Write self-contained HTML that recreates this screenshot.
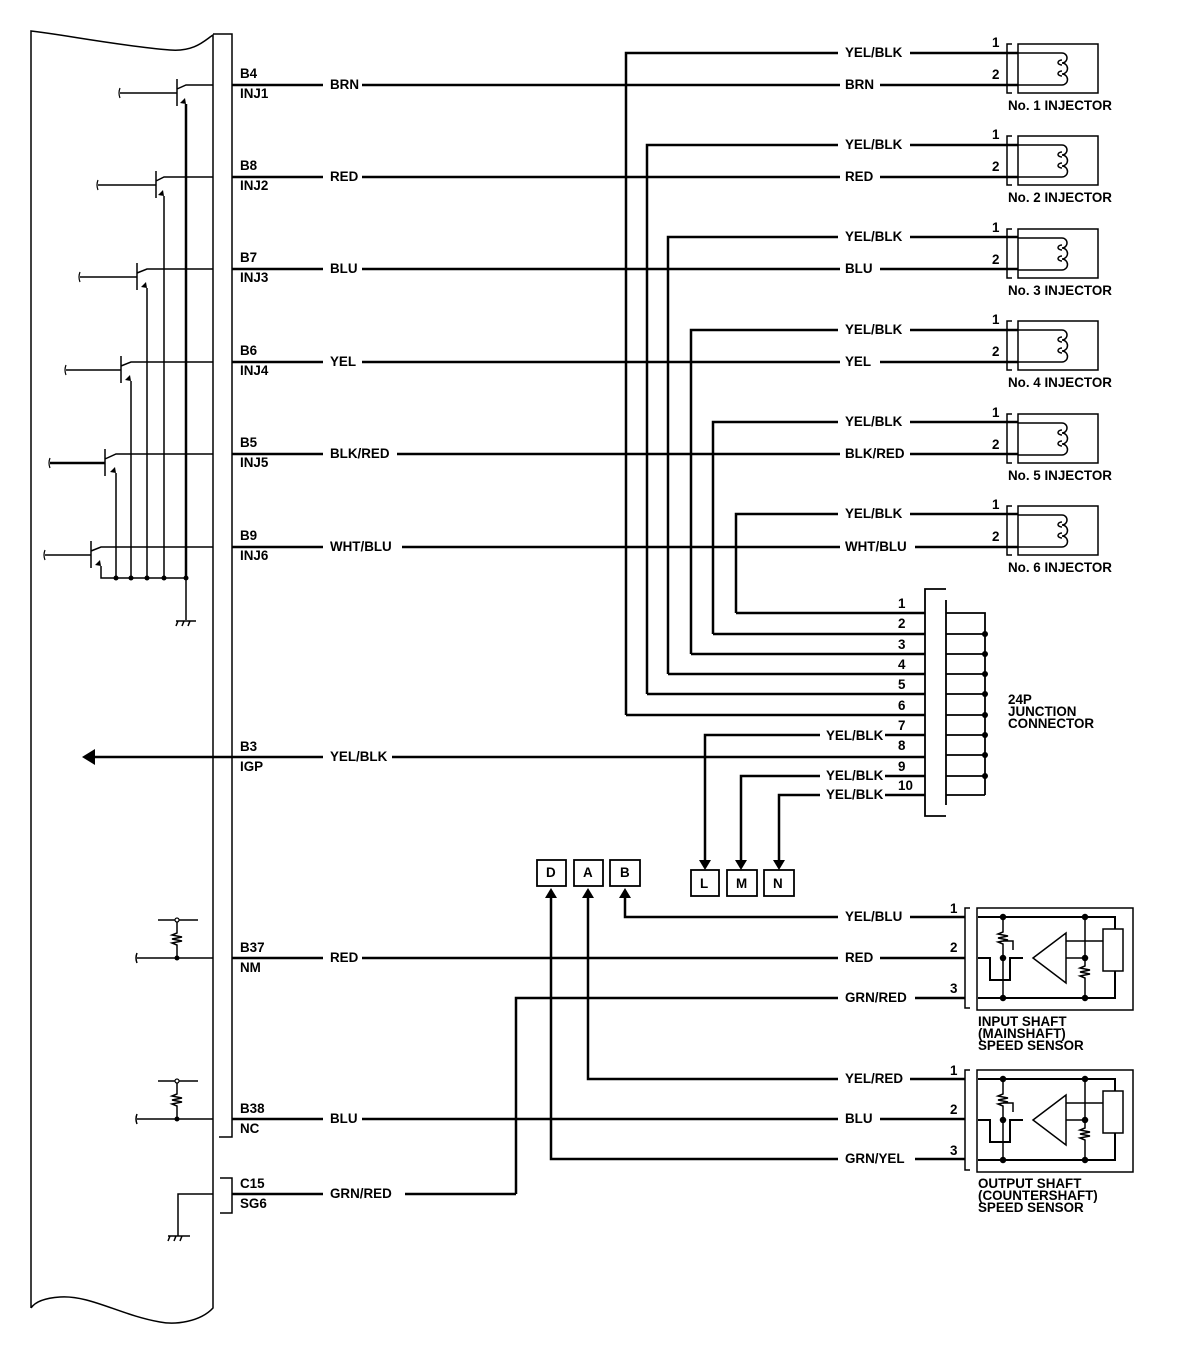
<!DOCTYPE html>
<html><head><meta charset="utf-8"><style>
html,body{margin:0;padding:0;background:#fff}
svg{display:block}
text{font-family:"Liberation Sans",sans-serif;font-weight:bold;font-size:13.4px;fill:#000}
</style></head><body>
<svg width="1184" height="1358" viewBox="0 0 1184 1358" xmlns="http://www.w3.org/2000/svg">
<defs>
<g id="inj">
 <path d="M1012,44 H1007 V93 H1012" fill="none" stroke="#000" stroke-width="1.5"/>
 <rect x="1018" y="44" width="80" height="49" fill="none" stroke="#000" stroke-width="1.5"/>
 <path d="M1018,53 H1062 M1018,85 H1062 M1062,53 a5,5 0 0 1 0,10 a5,5 0 0 1 0,11 a5,5 0 0 1 0,11 M1062,60 a4,2.5 0 0 0 0,5 M1062,71 a4,2.5 0 0 0 0,5" fill="none" stroke="#000" stroke-width="1.5"/>
 <text x="992" y="47">1</text><text x="992" y="79">2</text>
</g>
<g id="sen" fill="none" stroke="#000" stroke-width="1.5">
 <path d="M970,908 H965 V1008 H970"/>
 <rect x="977" y="908" width="156" height="102"/>
 <path d="M978,917 H1115 V929 M1115,971 V998 H978" stroke-width="2"/>
 <rect x="1103" y="929" width="20" height="42"/>
 <path d="M1003,917 V932 l-5,2 10,2 -10,2 10,2 -10,2 5,2 V998" />
 <path d="M1085,917 V966 l-5,2 10,2 -10,2 10,2 -10,2 5,2 V998"/>
 <path d="M978,958 H990 V980 H1010 V958 H1023" stroke-width="2"/>
 <path d="M1003,941 H1013 V950 M1033,958 L1066,933 V983 Z"/>
 <path d="M1066,941 H1103 M1066,958 H1085"/>
 <circle cx="1003" cy="917" r="2.5" fill="#000"/><circle cx="1003" cy="958" r="2.5" fill="#000"/><circle cx="1003" cy="998" r="2.5" fill="#000"/>
 <circle cx="1085" cy="917" r="2.5" fill="#000"/><circle cx="1085" cy="958" r="2.5" fill="#000"/><circle cx="1085" cy="998" r="2.5" fill="#000"/>
</g>
</defs>
<path d="M31,1308 V31 C60,34 120,46 170,50 C195,52 205,40 213,35 V1308 C200,1322 175,1325 160,1322 C120,1315 90,1295 60,1297 C45,1298 35,1302 31,1308" fill="none" stroke="#000" stroke-width="1.5"/>
<path d="M213,34 H232 V1137 H219" fill="none" stroke="#000" stroke-width="1.5"/>
<path d="M220,1178 H232 V1213 H220" fill="none" stroke="#000" stroke-width="1.5"/>

<g stroke="#000" fill="none">
<g stroke-width="1.5">
 <path d="M120,93 H177 M177,79 V106 M177,89 L186,85 H213 M186,104 V578"/>
 <path d="M98,185 H156 M156,171 V198 M156,181 L164,177 H213 M164,196 V578"/>
 <path d="M80,277 H137 M137,263 V290 M137,273 L147,269 H213 M147,288 V578"/>
 <path d="M66,370 H121 M121,356 V383 M121,366 L131,362 H213 M131,381 V578"/>
 <path d="M50,463 H105 M105,449 V476 M105,459 L116,454 H213 M116,473 V578" />
 <path d="M45,555 H91 M91,541 V568 M91,551 L101,547 H213 M101,566 V578 H186 V620"/>
 <path d="M176,621 H196 M178,621 l-2,5 M184,621 l-2,5 M190,621 l-2,5"/>
</g>
<path d="M50,463 H105 M186,104 V578" stroke-width="2.5"/>
<path d="M120,88 q-2,5 0,10 M98,180 q-2,5 0,10 M80,272 q-2,5 0,10 M66,365 q-2,5 0,10 M50,458 q-2,5 0,10 M45,550 q-2,5 0,10" stroke-width="1.2"/>
</g>
<g fill="#000">
 <path d="M186,104 l-6,-1 5,-5z M164,196 l-6,-1 5,-5z M147,288 l-6,-1 5,-5z M131,381 l-6,-1 5,-5z M116,473 l-6,-1 5,-5z M101,566 l-6,-1 5,-5z"/>
 <circle cx="116" cy="578" r="2.5"/><circle cx="131" cy="578" r="2.5"/><circle cx="147" cy="578" r="2.5"/><circle cx="164" cy="578" r="2.5"/><circle cx="186" cy="578" r="2.5"/>
</g>

<g stroke="#000" stroke-width="2.5" fill="none">
 <path d="M232,85 H323 M362,85 H840 M880,85 H1018"/>
 <path d="M232,177 H323 M362,177 H840 M880,177 H1018"/>
 <path d="M232,269 H323 M362,269 H840 M880,269 H1018"/>
 <path d="M232,362 H323 M362,362 H840 M880,362 H1018"/>
 <path d="M232,454 H323 M397,454 H840 M910,454 H1018"/>
 <path d="M232,547 H323 M402,547 H840 M915,547 H1018"/>
 <path d="M626,715 V53 H838 M910,53 H1018"/>
 <path d="M647,694 V145 H838 M910,145 H1018"/>
 <path d="M668,674 V237 H838 M910,237 H1018"/>
 <path d="M691,654 V330 H838 M910,330 H1018"/>
 <path d="M713,634 V422 H838 M910,422 H1018"/>
 <path d="M736,613 V514 H838 M910,514 H1018"/>
 <path d="M626,715 H925 M647,694 H925 M668,674 H925 M691,654 H925 M713,634 H925 M736,613 H925"/>
 <path d="M705,862 V735 H820 M885,735 H925"/>
 <path d="M90,757 H323 M392,757 H925" />
 <path d="M741,862 V776 H820 M885,776 H925"/>
 <path d="M779,862 V795 H820 M885,795 H925"/>
</g>
<g stroke="#000" stroke-width="1.8" fill="none">
 <path d="M946,589 H925 V816 H946 M946,600 V805"/>
 <path d="M946,613 H985 V795 M946,634 H985 M946,654 H985 M946,674 H985 M946,694 H985 M946,715 H985 M946,735 H985 M946,755 H985 M946,776 H985 M946,795 H985"/>
</g>
<g fill="#000">
 <circle cx="985" cy="634" r="3"/><circle cx="985" cy="654" r="3"/><circle cx="985" cy="674" r="3"/><circle cx="985" cy="694" r="3"/><circle cx="985" cy="715" r="3"/><circle cx="985" cy="735" r="3"/><circle cx="985" cy="755" r="3"/><circle cx="985" cy="776" r="3"/>
 <path d="M82,757 L95,749 V765 Z"/>
 <path d="M699,860 H711 L705,870 Z M735,860 H747 L741,870 Z M773,860 H785 L779,870 Z"/>
 <path d="M545,898 H557 L551,888 Z M582,898 H594 L588,888 Z M619,898 H631 L625,888 Z"/>
</g>
<g fill="none" stroke="#000" stroke-width="1.8">
 <rect x="691" y="870" width="28" height="26"/><rect x="727" y="870" width="30" height="26"/><rect x="764" y="870" width="30" height="26"/>
 <rect x="537" y="860" width="29" height="26"/><rect x="574" y="860" width="29" height="26"/><rect x="610" y="860" width="30" height="26"/>
</g>
<use href="#inj"/><use href="#inj" y="92"/><use href="#inj" y="185"/><use href="#inj" y="277"/><use href="#inj" y="370"/><use href="#inj" y="462"/>

<use href="#sen"/><use href="#sen" y="162"/>
<g stroke="#000" stroke-width="2.5" fill="none">
 <path d="M625,898 V917 H838 M910,917 H965"/>
 <path d="M232,958 H323 M362,958 H838 M880,958 H965"/>
 <path d="M516,1194 V998 H838 M915,998 H965"/>
 <path d="M588,898 V1079 H838 M910,1079 H965"/>
 <path d="M232,1119 H323 M362,1119 H838 M880,1119 H965"/>
 <path d="M551,898 V1159 H838 M915,1159 H965"/>
 <path d="M232,1194 H323 M405,1194 H516"/>
</g>
<g stroke="#000" stroke-width="1.5" fill="none">
 <path d="M137,958 H213 M177,958 V945 l-5,-2 10,-2 -10,-2 10,-2 -10,-2 5,-2 V920 M158,920 H198"/>
 <path d="M137,1119 H213 M177,1119 V1106 l-5,-2 10,-2 -10,-2 10,-2 -10,-2 5,-2 V1081 M158,1081 H198"/>
 <path d="M213,1194 H178 V1236 M168,1236 H190 M170,1236 l-2,5 M176,1236 l-2,5 M182,1236 l-2,5"/>
 <path d="M137,953 q-2,5 0,10 M137,1114 q-2,5 0,10"/>
</g>
<g fill="#000"><circle cx="177" cy="958" r="2.5"/><circle cx="177" cy="1119" r="2.5"/></g>
<g fill="#fff" stroke="#000" stroke-width="1.2"><circle cx="177" cy="920" r="2"/><circle cx="177" cy="1081" r="2"/></g>

<text x="240" y="78">B4</text><text x="240" y="98">INJ1</text><text x="330" y="89">BRN</text><text x="845" y="89">BRN</text>
<text x="240" y="170">B8</text><text x="240" y="190">INJ2</text><text x="330" y="181">RED</text><text x="845" y="181">RED</text>
<text x="240" y="262">B7</text><text x="240" y="282">INJ3</text><text x="330" y="273">BLU</text><text x="845" y="273">BLU</text>
<text x="240" y="355">B6</text><text x="240" y="375">INJ4</text><text x="330" y="366">YEL</text><text x="845" y="366">YEL</text>
<text x="240" y="447">B5</text><text x="240" y="467">INJ5</text><text x="330" y="458">BLK/RED</text><text x="845" y="458">BLK/RED</text>
<text x="240" y="540">B9</text><text x="240" y="560">INJ6</text><text x="330" y="551">WHT/BLU</text><text x="845" y="551">WHT/BLU</text>
<text x="845" y="57">YEL/BLK</text><text x="845" y="149">YEL/BLK</text><text x="845" y="241">YEL/BLK</text><text x="845" y="334">YEL/BLK</text><text x="845" y="426">YEL/BLK</text><text x="845" y="518">YEL/BLK</text>
<text x="1008" y="110">No. 1 INJECTOR</text><text x="1008" y="202">No. 2 INJECTOR</text><text x="1008" y="295">No. 3 INJECTOR</text><text x="1008" y="387">No. 4 INJECTOR</text><text x="1008" y="480">No. 5 INJECTOR</text><text x="1008" y="572">No. 6 INJECTOR</text>
<text x="898" y="608">1</text><text x="898" y="628">2</text><text x="898" y="649">3</text><text x="898" y="669">4</text><text x="898" y="689">5</text><text x="898" y="710">6</text><text x="898" y="730">7</text><text x="898" y="750">8</text><text x="898" y="771">9</text><text x="898" y="790">10</text>
<text x="1008" y="704">24P</text><text x="1008" y="716">JUNCTION</text><text x="1008" y="728">CONNECTOR</text>
<text x="826" y="740">YEL/BLK</text><text x="826" y="780">YEL/BLK</text><text x="826" y="799">YEL/BLK</text>
<text x="240" y="751">B3</text><text x="240" y="771">IGP</text><text x="330" y="761">YEL/BLK</text>
<text x="700" y="888">L</text><text x="736" y="888">M</text><text x="773" y="888">N</text>
<text x="546" y="877">D</text><text x="583" y="877">A</text><text x="620" y="877">B</text>
<text x="845" y="921">YEL/BLU</text><text x="845" y="962">RED</text><text x="845" y="1002">GRN/RED</text>
<text x="950" y="913">1</text><text x="950" y="952">2</text><text x="950" y="993">3</text>
<text x="978" y="1026">INPUT SHAFT</text><text x="978" y="1038">(MAINSHAFT)</text><text x="978" y="1050">SPEED SENSOR</text>
<text x="845" y="1083">YEL/RED</text><text x="845" y="1123">BLU</text><text x="845" y="1163">GRN/YEL</text>
<text x="950" y="1075">1</text><text x="950" y="1114">2</text><text x="950" y="1155">3</text>
<text x="978" y="1188">OUTPUT SHAFT</text><text x="978" y="1200">(COUNTERSHAFT)</text><text x="978" y="1212">SPEED SENSOR</text>
<text x="240" y="952">B37</text><text x="240" y="972">NM</text><text x="330" y="962">RED</text>
<text x="240" y="1113">B38</text><text x="240" y="1133">NC</text><text x="330" y="1123">BLU</text>
<text x="240" y="1188">C15</text><text x="240" y="1208">SG6</text><text x="330" y="1198">GRN/RED</text>
</svg>
</body></html>
